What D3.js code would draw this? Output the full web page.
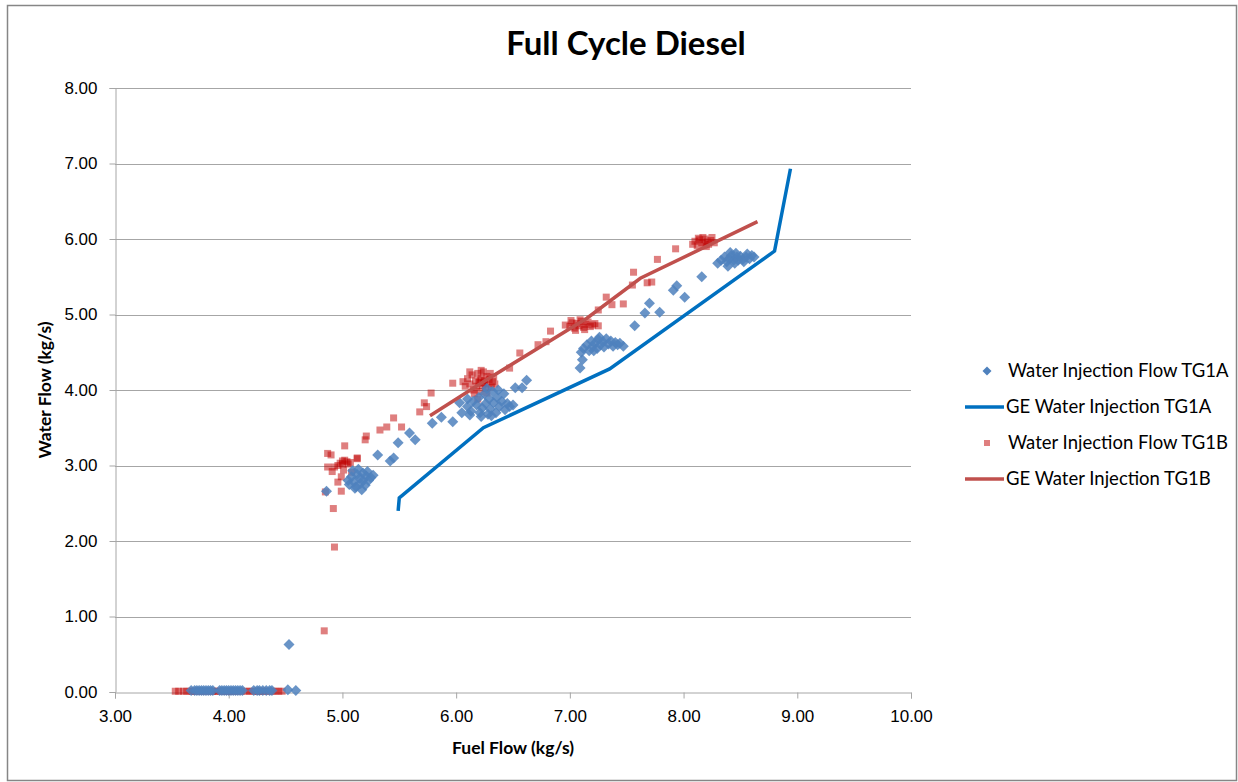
<!DOCTYPE html>
<html>
<head>
<meta charset="utf-8">
<script src="https://cdnjs.cloudflare.com/ajax/libs/d3/7.8.5/d3.min.js"></script>
<style>
  body { margin: 0; background: #fff; }
  svg { font-family: "Lato", "Open Sans", sans-serif; }
</style>
</head>
<body>
<svg id="chart"></svg>
<script>
var width = 1238;
var height = 782;

// series names
var seriesNames = ["Water Injection Flow TG1A", "GE Water Injection TG1A",
                   "Water Injection Flow TG1B", "GE Water Injection TG1B"];

var xTicks = [3, 4, 5, 6, 7, 8, 9, 10];
var yTicks = [0, 1, 2, 3, 4, 5, 6, 7, 8];

// measured points TG1A [fuel, water]
var flowA = [
  [3.67,0.02],[3.70,0.02],[3.72,0.02],[3.74,0.02],[3.76,0.02],[3.78,0.02],[3.80,0.02],[3.82,0.02],
  [3.84,0.02],[3.86,0.02],[3.92,0.02],[3.94,0.02],[3.96,0.02],[3.98,0.02],[4.00,0.02],[4.02,0.02],
  [4.04,0.02],[4.06,0.02],[4.08,0.02],[4.10,0.02],[4.12,0.02],[4.22,0.02],[4.25,0.02],[4.27,0.02],
  [4.30,0.02],[4.33,0.02],[4.36,0.02],[4.38,0.02],[4.52,0.03],[4.59,0.02],[4.53,0.63],
  [4.86,2.66],
  [5.05,2.80],[5.08,2.85],[5.10,2.78],[5.12,2.72],[5.13,2.88],[5.15,2.83],[5.16,2.76],[5.18,2.90],
  [5.18,2.80],[5.20,2.74],[5.21,2.86],[5.23,2.80],[5.25,2.84],[5.09,2.93],[5.14,2.95],[5.11,2.70],
  [5.17,2.68],[5.06,2.75],[5.22,2.92],[5.27,2.87],
  [5.31,3.14],[5.42,3.06],[5.45,3.10],[5.49,3.30],[5.59,3.43],[5.64,3.34],[5.79,3.56],[5.87,3.64],
  [5.97,3.58],[6.03,3.83],[6.10,3.88],[6.12,3.67],
  [6.05,3.70],[6.10,3.78],[6.13,3.72],[6.15,3.85],[6.18,3.80],[6.20,3.90],[6.21,3.70],[6.23,3.76],
  [6.25,3.95],[6.26,3.82],[6.28,3.68],[6.29,3.88],[6.30,3.75],[6.32,3.98],[6.33,3.83],[6.35,3.70],
  [6.36,3.90],[6.38,3.78],[6.40,3.85],[6.42,3.95],[6.43,3.74],[6.45,3.82],[6.47,3.78],[6.50,3.80],
  [6.37,4.00],[6.27,4.02],[6.22,3.65],[6.31,3.66],[6.52,4.03],[6.58,4.03],[6.62,4.13],
  [7.09,4.29],[7.11,4.40],[7.10,4.50],
  [7.12,4.55],[7.15,4.60],[7.17,4.52],[7.19,4.65],[7.20,4.58],[7.22,4.62],[7.24,4.55],[7.25,4.67],
  [7.27,4.60],[7.29,4.64],[7.30,4.57],[7.32,4.68],[7.34,4.61],[7.36,4.65],[7.38,4.58],[7.40,4.63],
  [7.42,4.60],[7.44,4.62],[7.47,4.58],[7.21,4.52],[7.26,4.70],
  [7.57,4.85],[7.66,5.02],[7.70,5.15],[7.79,5.03],[7.91,5.32],[7.94,5.38],[8.01,5.23],[8.16,5.50],
  [8.30,5.68],[8.33,5.72],[8.36,5.76],[8.38,5.70],[8.40,5.74],[8.42,5.78],[8.44,5.72],[8.45,5.68],
  [8.47,5.76],[8.48,5.72],[8.50,5.77],[8.52,5.73],[8.53,5.70],[8.55,5.76],[8.56,5.80],[8.58,5.74],
  [8.60,5.78],[8.62,5.76],[8.46,5.81],[8.39,5.64],[8.41,5.82]
];

// GE reference curve TG1A
var geA = [[5.49,2.40],[5.50,2.57],[6.24,3.50],[7.35,4.28],[8.80,5.84],[8.94,6.93]];

// measured points TG1B
var flowB = [
  [3.53,0.01],[3.56,0.01],[3.60,0.01],[3.63,0.01],[3.66,0.01],[3.68,0.01],[3.70,0.01],[3.72,0.01],
  [3.75,0.01],[3.77,0.01],[3.80,0.01],[3.83,0.01],[3.86,0.01],[3.88,0.01],[3.90,0.01],[3.93,0.01],
  [3.95,0.01],[3.97,0.01],[3.99,0.01],[4.01,0.01],[4.03,0.01],[4.05,0.01],[4.08,0.01],[4.11,0.01],
  [4.15,0.01],[4.18,0.01],[4.21,0.01],[4.24,0.01],[4.26,0.01],[4.28,0.01],[4.30,0.01],[4.32,0.01],
  [4.35,0.01],[4.38,0.01],[4.41,0.01],[4.44,0.01],[4.47,0.01],
  [4.84,0.81],[4.93,1.92],[4.92,2.43],
  [4.85,2.65],[4.99,2.66],[4.96,2.78],[4.99,2.85],[4.91,2.92],[5.01,2.94],[5.08,2.91],[4.87,2.98],
  [4.93,2.98],[4.98,3.03],[5.04,3.05],[5.07,3.04],[5.13,3.10],[4.90,3.14],[5.02,3.26],[4.87,3.16],
  [5.00,3.02],[5.02,3.07],[4.96,3.00],[5.05,3.02],[5.00,3.06],
  [5.20,3.34],[5.21,3.39],[5.33,3.47],[5.39,3.51],[5.45,3.63],[5.52,3.51],[5.13,3.09],
  [5.68,3.71],[5.72,3.83],[5.74,3.78],[5.78,3.96],[5.97,4.09],
  [6.08,4.05],[6.10,4.15],[6.12,4.08],[6.14,4.20],[6.15,4.00],[6.17,4.12],[6.18,4.05],[6.19,4.22],
  [6.20,4.10],[6.21,3.98],[6.22,4.16],[6.23,4.06],[6.24,4.24],[6.25,4.12],[6.26,4.02],[6.27,4.18],
  [6.28,4.08],[6.29,4.14],[6.30,4.22],[6.31,4.04],[6.32,4.11],[6.33,4.17],[6.16,3.95],[6.27,3.96],
  [6.12,4.24],[6.34,4.08],[6.22,4.26],[6.06,4.11],[6.19,3.88],[6.24,4.09],[6.21,4.13],
  [6.47,4.29],[6.56,4.49],[6.72,4.60],[6.79,4.64],[6.83,4.78],
  [6.96,4.86],[7.00,4.84],[7.02,4.89],[7.04,4.82],[7.06,4.88],[7.08,4.85],[7.10,4.91],[7.12,4.83],
  [7.14,4.87],[7.16,4.90],[7.18,4.84],[7.20,4.86],[7.22,4.88],[7.05,4.79],[7.13,4.80],[7.25,4.85],
  [7.01,4.92],[7.09,4.93],
  [7.25,5.06],[7.32,5.23],[7.37,5.13],[7.47,5.14],[7.55,5.39],[7.56,5.56],[7.68,5.42],[7.72,5.43],
  [7.77,5.73],[7.93,5.87],
  [8.08,5.93],[8.10,5.97],[8.12,5.91],[8.14,5.99],[8.16,5.95],[8.18,5.92],[8.19,6.00],[8.21,5.96],
  [8.22,5.93],[8.24,5.98],[8.25,6.02],[8.27,5.95],[8.13,6.01],[8.20,5.90],[8.17,6.02]
];

// GE reference curve TG1B
var geB = [[5.77,3.66],[6.25,4.12],[7.15,4.95],[7.62,5.48],[8.65,6.23]];

var margin = {left: 115, top: 88, right: 327, bottom: 90};

var svg = d3.select("#chart")
    .attr("width", width)
    .attr("height", height);

// chart frame
svg.append("rect")
    .attr("x", 7.5).attr("y", 5.5)
    .attr("width", width - 9).attr("height", height - 7)
    .attr("fill", "#fff")
    .attr("stroke", "#868686")
    .attr("stroke-width", 1.5);

var x = d3.scaleLinear().domain([3, 10]).range([margin.left, width - margin.right]);
var y = d3.scaleLinear().domain([0, 8]).range([height - margin.bottom, margin.top]);

var g = svg.append("g");

// gridlines
g.selectAll(".grid")
  .data(yTicks.slice(1))
  .enter().append("line")
    .attr("x1", x(3)).attr("x2", x(10))
    .attr("y1", function(d) { return Math.round(y(d)) + 0.5; })
    .attr("y2", function(d) { return Math.round(y(d)) + 0.5; })
    .attr("stroke", "#a6a6a6")
    .attr("stroke-width", 1);

var xAxis = g.append("g")
    .attr("transform", "translate(0," + (Math.round(y(0)) + 0.5) + ")")
    .call(d3.axisBottom(x).tickValues(xTicks).tickFormat(d3.format(".2f")).tickSizeOuter(0).tickSize(6).tickPadding(8));

var yAxis = g.append("g")
    .attr("transform", "translate(" + (Math.round(x(3)) + 0.5) + ",0)")
    .call(d3.axisLeft(y).tickValues(yTicks).tickFormat(d3.format(".2f")).tickSizeOuter(0).tickSize(6).tickPadding(12));

[xAxis, yAxis].forEach(function(a) {
  a.selectAll("path, line").attr("stroke", "#a6a6a6");
  a.selectAll("text").attr("fill", "#000").style("font-size", "17px");
});
xAxis.selectAll("text").attr("dy", "0.9em");

// series
var line = d3.line()
    .x(function(d) { return x(d[0]); })
    .y(function(d) { return y(d[1]); });

g.append("path")
    .datum(geA)
    .attr("d", line)
    .attr("fill", "none")
    .attr("stroke", "#0070c0")
    .attr("stroke-width", 3.5);

g.append("g").selectAll("rect")
  .data(flowB)
  .enter().append("rect")
    .attr("x", function(d) { return x(d[0]) - 3.5; })
    .attr("y", function(d) { return y(d[1]) - 3.5; })
    .attr("width", 7).attr("height", 7)
    .attr("fill", "#c00000")
    .attr("fill-opacity", 0.5);

g.append("g").selectAll("path")
  .data(flowA)
  .enter().append("path")
    .attr("d", "M0,-5.5L5.5,0L0,5.5L-5.5,0Z")
    .attr("transform", function(d) { return "translate(" + x(d[0]) + "," + y(d[1]) + ")"; })
    .attr("fill", "#4f81bd")
    .attr("fill-opacity", 0.85);

g.append("path")
    .datum(geB)
    .attr("d", line)
    .attr("fill", "none")
    .attr("stroke", "#c0504d")
    .attr("stroke-width", 3.5);

// titles
svg.append("text")
    .attr("x", 626).attr("y", 55)
    .attr("text-anchor", "middle")
    .style("font-size", "33px")
    .style("font-weight", "bold")
    .text("Full Cycle Diesel");

svg.append("text")
    .attr("x", (x(3) + x(10)) / 2).attr("y", 754)
    .attr("text-anchor", "middle")
    .style("font-size", "17.5px")
    .style("font-weight", "bold")
    .text("Fuel Flow (kg/s)");

svg.append("text")
    .attr("transform", "translate(51," + y(4) + ") rotate(-90)")
    .attr("text-anchor", "middle")
    .style("font-size", "17.5px")
    .style("font-weight", "bold")
    .text("Water Flow (kg/s)");

// legend
var legend = svg.append("g").attr("transform", "translate(965,371)");
var item = legend.selectAll("g")
  .data(seriesNames)
  .enter().append("g")
    .attr("transform", function(d, i) { return "translate(0," + i * 36 + ")"; });

item.each(function(d, i) {
  var it = d3.select(this);
  if (i === 0) {
    it.append("path").attr("d", "M0,-4.5L4.5,0L0,4.5L-4.5,0Z")
      .attr("transform", "translate(22,0)").attr("fill", "#4f81bd");
  } else if (i === 2) {
    it.append("rect").attr("x", 19).attr("y", -3).attr("width", 6).attr("height", 6)
      .attr("fill", "#c00000").attr("fill-opacity", 0.5);
  } else {
    it.append("line").attr("x1", 0).attr("x2", 39).attr("y1", 0).attr("y2", 0)
      .attr("stroke", i === 1 ? "#0070c0" : "#c0504d").attr("stroke-width", 3.5);
  }
  it.append("text")
    .attr("x", i % 2 === 0 ? 43 : 41).attr("y", 0).attr("dy", "0.35em")
    .style("font-size", "18.5px")
    .text(d);
});
</script>
</body>
</html>
